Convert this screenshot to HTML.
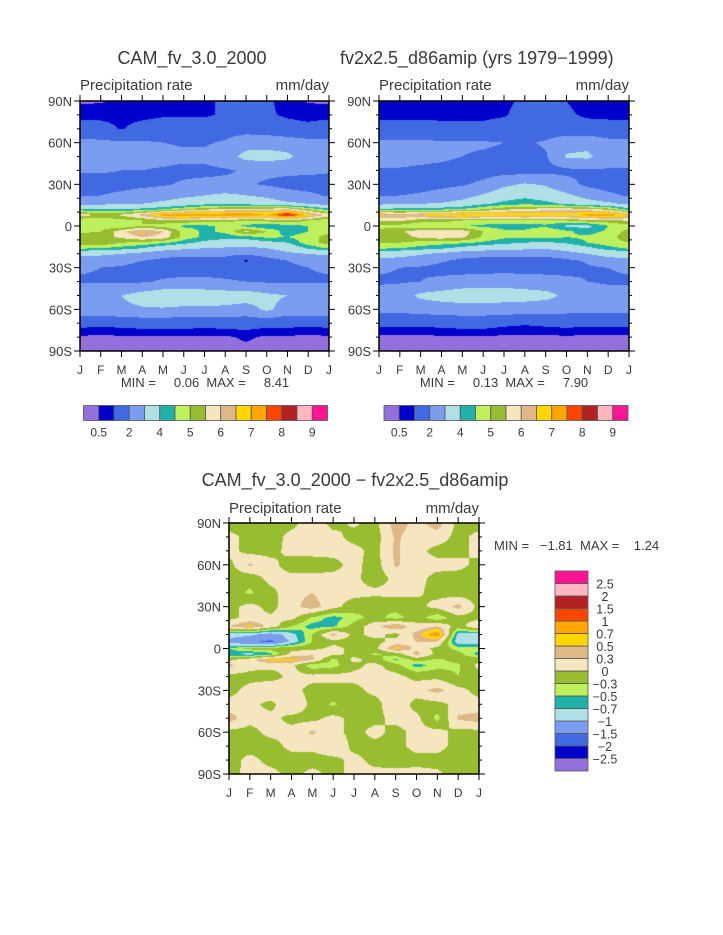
<!DOCTYPE html>
<html><head><meta charset="utf-8"><style>
html,body{margin:0;padding:0;background:#fff;}
#root{position:relative;width:723px;height:935px;overflow:hidden;background:#fff;}
canvas{position:absolute;}
svg{position:absolute;left:0;top:0;}
text{font-family:"Liberation Sans",sans-serif;fill:#3a3a3a;white-space:pre;}
</style></head><body>
<div id="root">
<canvas id="c1" style="left:80px;top:101px" width="249" height="250"></canvas>
<canvas id="c2" style="left:379px;top:101px" width="250" height="250"></canvas>
<canvas id="c3" style="left:229px;top:523px" width="250" height="251"></canvas>
<svg id="ov" width="723" height="935">
<text x="192" y="64" font-size="18" text-anchor="middle">CAM_fv_3.0_2000</text>
<text x="340" y="64" font-size="18">fv2x2.5_d86amip (yrs 1979−1999)</text>
<text x="80" y="90" font-size="15">Precipitation rate</text>
<text x="329" y="90" font-size="15" text-anchor="end">mm/day</text>
<text x="379" y="90" font-size="15">Precipitation rate</text>
<text x="629" y="90" font-size="15" text-anchor="end">mm/day</text>
<text x="205" y="387" font-size="13" text-anchor="middle" xml:space="preserve">MIN =     0.06  MAX =     8.41</text>
<text x="504" y="387" font-size="13" text-anchor="middle" xml:space="preserve">MIN =     0.13  MAX =     7.90</text>
<text x="355" y="486" font-size="18" text-anchor="middle">CAM_fv_3.0_2000 − fv2x2.5_d86amip</text>
<text x="229" y="513" font-size="15">Precipitation rate</text>
<text x="479" y="513" font-size="15" text-anchor="end">mm/day</text>
<text x="494" y="550" font-size="13" xml:space="preserve">MIN =   −1.81  MAX =    1.24</text>
</svg>
</div>
<script>
// ---------- data ----------
const months = ["J","F","M","A","M","J","J","A","S","O","N","D","J"];
const latTicks = [90,60,30,0,-30,-60,-90];
const latTickLabels = ["90N","60N","30N","0","30S","60S","90S"];
const palette = ["#9370DB","#0000CD","#4169E1","#7A9DF0","#B0E0E6","#20B2AA","#BEF05E","#98BD30","#F5E6C0","#DEB887","#FFD700","#FFA500","#FF4500","#B22222","#FFB6C1","#FF1493"];
const precipLevels = [0.5,1,2,3,4,4.5,5,5.5,6,6.5,7,7.5,8,8.5,9];
const precipLevelLabels = ["0.5","","2","","4","","5","","6","","7","","8","","9"];
const diffLevels = [-2.5,-2,-1.5,-1,-0.7,-0.5,-0.3,0,0.3,0.5,0.7,1,1.5,2,2.5];
const diffLevelLabels = ["−2.5","−2","−1.5","−1","−0.7","−0.5","−0.3","0","0.3","0.5","0.7","1","1.5","2","2.5"];

const latsP = [90,80,70,60,50,40,30,22,16,12,8,4,0,-4,-8,-12,-16,-20,-25,-30,-40,-50,-60,-70,-80,-90];
const model = [
[0.4,0.45,0.6,0.6,0.6,0.7,0.9,1.1,1.1,1.1,0.8,0.45,0.4],
[0.8,0.8,0.8,0.8,0.9,0.9,0.9,1.1,1.1,1.1,0.9,0.8,0.8],
[1.4,1.3,0.95,1.3,1.5,1.5,1.5,1.6,1.6,1.5,1.3,1.2,1.4],
[2.2,2.2,2.1,2.1,2.0,1.9,1.9,2.1,2.6,2.6,2.5,2.3,2.2],
[2.5,2.5,2.4,2.3,2.3,2.2,2.2,2.6,3.3,3.4,3.2,2.5,2.5],
[2.1,2.1,2.0,2.0,1.9,1.8,1.8,1.9,2.1,2.2,2.2,2.2,2.1],
[1.6,1.6,1.7,1.8,1.9,2.1,2.2,2.2,2.1,1.9,1.7,1.6,1.6],
[1.9,2.0,2.2,2.4,2.6,2.8,3.0,3.2,3.0,2.8,2.4,2.2,1.9],
[2.6,2.8,3.0,3.0,3.2,3.5,3.8,4.0,3.8,3.5,3.2,3.0,2.6],
[4.2,4.0,4.0,4.2,4.5,5.0,5.4,5.6,5.8,5.8,6.0,5.0,4.2],
[5.8,5.4,5.6,6.2,7.3,7.6,7.4,7.5,7.6,7.0,8.3,6.8,5.8],
[4.6,4.6,4.8,5.0,5.3,5.4,5.2,5.2,5.0,5.2,5.4,5.0,4.6],
[4.7,4.8,4.6,5.0,4.8,4.4,4.4,4.6,4.4,4.0,4.3,4.5,4.7],
[4.9,5.0,5.8,6.6,6.0,4.8,4.4,4.6,5.6,5.0,4.2,4.5,4.9],
[5.2,5.3,5.6,6.0,5.8,4.8,4.4,4.2,4.3,4.6,4.5,4.8,5.2],
[5.2,5.4,5.0,4.9,4.6,4.2,3.8,3.6,3.5,3.8,4.0,4.8,5.2],
[4.6,4.5,4.3,4.0,3.5,3.2,3.0,2.9,2.8,3.0,3.4,4.1,4.6],
[3.2,3.2,3.0,2.7,2.3,2.2,2.2,2.2,2.2,2.4,2.8,3.0,3.2],
[2.4,2.4,2.3,2.0,1.8,1.7,1.7,1.7,0.9,1.6,2.0,2.3,2.4],
[2.1,2.0,1.9,1.7,1.6,1.6,1.6,1.6,1.5,1.6,1.8,2.0,2.1],
[1.9,1.9,1.9,1.9,2.1,2.2,2.2,2.1,2.0,1.9,1.9,1.9,1.9],
[2.9,3.0,3.0,3.4,3.7,3.7,3.6,3.5,3.5,3.2,3.0,2.9,2.9],
[2.6,2.7,2.8,2.9,2.9,2.8,2.8,2.8,2.6,3.2,2.6,2.8,2.6],
[1.3,1.2,1.3,1.4,1.4,1.4,1.3,1.4,1.4,1.3,1.3,1.2,1.3],
[0.4,0.4,0.4,0.4,0.4,0.4,0.45,0.4,0.6,0.4,0.4,0.4,0.4],
[0.3,0.3,0.3,0.3,0.3,0.3,0.3,0.3,0.3,0.3,0.3,0.3,0.3]];
const obs = [
[0.8,0.8,0.8,0.8,0.8,0.8,0.9,1.1,1.1,1.0,0.8,0.8,0.8],
[0.85,0.85,0.85,0.85,0.85,0.85,0.95,1.2,1.2,1.1,0.9,0.85,0.85],
[1.3,1.3,1.3,1.2,1.2,1.2,1.3,1.5,1.5,1.4,1.3,1.3,1.3],
[2.2,2.2,2.2,2.1,2.1,2.1,2.0,1.9,2.1,2.6,2.7,2.3,2.2],
[2.5,2.4,2.3,2.2,2.0,1.9,1.8,1.7,1.9,3.1,3.2,2.5,2.5],
[1.9,1.9,1.8,1.7,1.6,1.6,1.6,1.6,1.7,1.8,1.9,1.9,1.9],
[1.6,1.6,1.7,1.8,1.9,2.2,2.8,3.1,2.9,2.3,1.8,1.6,1.6],
[1.9,2.0,2.1,2.3,2.6,3.1,3.6,3.8,3.6,3.2,2.6,2.2,1.9],
[2.8,2.9,3.0,3.1,3.4,3.9,4.2,4.4,4.2,3.9,3.5,3.2,2.8],
[4.2,4.2,4.3,4.4,4.6,5.0,5.4,5.6,5.8,5.8,5.8,5.3,4.2],
[6.7,6.4,6.6,6.9,7.2,7.0,6.9,7.1,6.9,6.8,7.2,7.4,6.7],
[5.6,5.6,5.2,5.2,5.0,4.8,4.8,4.8,4.8,5.0,5.3,5.3,5.6],
[4.8,4.8,4.6,4.6,4.5,4.4,4.3,4.3,4.4,3.9,3.8,4.5,4.8],
[5.2,5.4,5.8,5.9,5.8,5.0,4.6,4.6,5.0,4.6,4.3,4.6,5.2],
[5.3,5.3,5.6,5.8,5.6,4.9,4.6,4.6,4.7,4.5,4.6,4.8,5.3],
[5.0,5.0,4.8,4.7,4.6,4.4,4.2,4.0,3.9,4.1,4.5,4.8,5.0],
[4.6,4.5,4.3,4.1,3.8,3.5,3.3,3.2,3.1,3.4,3.8,4.3,4.6],
[3.4,3.3,3.1,2.8,2.4,2.3,2.3,2.3,2.4,2.6,3.0,3.4,3.4],
[2.8,2.7,2.5,2.1,1.8,1.7,1.7,1.7,1.5,1.8,2.1,2.6,2.8],
[2.1,2.0,1.9,1.7,1.6,1.6,1.6,1.6,1.6,1.7,1.9,2.0,2.1],
[1.9,1.9,2.0,2.2,2.4,2.5,2.6,2.5,2.4,2.2,2.0,1.9,1.9],
[2.3,2.6,3.2,3.4,3.6,3.6,3.5,3.4,3.3,2.8,2.5,2.3,2.3],
[2.3,2.3,2.4,2.5,2.5,2.5,2.5,2.5,2.4,2.3,2.3,2.3,2.3],
[1.2,1.2,1.2,1.3,1.4,1.4,1.2,1.1,1.2,1.3,1.2,1.2,1.2],
[0.4,0.4,0.4,0.4,0.4,0.4,0.4,0.4,0.4,0.4,0.4,0.4,0.4],
[0.3,0.3,0.3,0.3,0.3,0.3,0.3,0.3,0.3,0.3,0.3,0.3,0.3]];
const latsD = [90,80,70,60,50,40,30,22,16,10,5,0,-4,-8,-12,-20,-30,-40,-50,-60,-70,-80,-90];
const diff = [
[-0.15,-0.15,-0.1,-0.1,0.2,-0.1,0.05,-0.1,0.45,0.2,0.45,-0.1,-0.15],
[0.1,-0.1,-0.15,0.1,0.1,0.1,-0.1,-0.15,0.35,0.15,0.15,-0.1,0.1],
[0.1,-0.1,-0.1,0.1,0.1,0.1,0.1,-0.1,0.35,0.1,-0.1,-0.1,0.1],
[-0.1,0.35,0.1,-0.15,-0.15,-0.1,0.1,-0.15,0.35,0.1,0.1,0.1,-0.1],
[-0.15,-0.2,0.1,0.1,0.1,0.1,0.1,-0.2,0.1,0.1,-0.1,-0.15,-0.15],
[-0.15,-0.35,-0.1,0.2,0.3,0.1,0.1,0.1,0.1,0.05,-0.1,-0.15,-0.15],
[-0.1,0.1,-0.1,0.2,0.45,0.1,-0.15,-0.3,-0.2,-0.1,0.1,0.4,-0.1],
[-0.1,0.1,0.05,0.1,-0.35,-0.6,-0.4,-0.2,-0.4,-0.15,-0.5,-0.1,-0.1],
[0.3,0.6,0.2,-0.3,-0.6,-0.55,-0.2,0.2,0.55,0.1,0.3,-0.15,0.3],
[-0.85,-0.9,-1.2,-0.8,-0.3,0.4,-0.1,0.1,-0.1,0.4,0.95,-0.8,-0.85],
[-1.1,-1.4,-1.6,-0.9,-0.3,-0.1,-0.1,-0.1,0.1,0.3,0.3,-0.9,-0.9],
[-0.5,-0.2,-0.15,-0.1,-0.1,0.1,-0.1,-0.1,0.6,0.2,-0.1,-0.4,-0.4],
[-0.65,-0.8,-0.6,0.1,0.3,0.1,-0.1,-0.35,-0.2,0.4,-0.1,-0.2,-0.6],
[-0.1,0.2,0.6,0.6,0.35,-0.4,0.1,-0.15,-0.55,-0.2,-0.35,-0.2,-0.1],
[0.4,0.1,0.1,0.1,-0.5,-0.4,-0.1,0.1,-0.2,-0.6,-0.4,-0.35,0.1],
[-0.1,-0.1,-0.15,0.1,0.1,0.1,0.1,0.1,0.1,-0.1,-0.1,-0.3,-0.1],
[-0.1,0.1,0.3,0.1,-0.1,-0.1,-0.1,0.1,0.1,0.2,0.4,0.1,-0.1],
[0.1,0.1,-0.1,0.3,-0.1,-0.35,-0.1,-0.15,0.3,-0.15,-0.1,0.1,0.1],
[0.45,0.1,0.1,-0.1,-0.1,0.1,-0.1,-0.1,0.1,0.1,-0.4,0.35,0.45],
[-0.1,-0.1,0.1,0.1,0.35,0.1,-0.1,0.1,-0.1,0.1,0.1,-0.1,-0.1],
[-0.1,-0.15,-0.15,0.1,0.1,0.3,-0.1,-0.1,-0.1,0.1,0.1,-0.1,-0.1],
[-0.15,0.1,-0.1,-0.15,-0.15,-0.1,0.1,-0.1,-0.15,-0.1,-0.1,-0.15,-0.15],
[-0.1,0.1,0.1,-0.1,0.1,-0.1,0.1,0.1,0.1,0.1,0.05,-0.1,-0.1]];

// ---------- drawing ----------
function hex(c){return [parseInt(c.substr(1,2),16),parseInt(c.substr(3,2),16),parseInt(c.substr(5,2),16)];}
const rgb = palette.map(hex);
function levelIndex(v,levels){let k=0;while(k<levels.length&&v>=levels[k])k++;return k;}
function sample(lats,vals,lat,m){
  let i=0;while(i<lats.length-2&&lat<lats[i+1])i++;
  const t=(lats[i]-lat)/(lats[i]-lats[i+1]);
  let j=Math.min(11,Math.floor(m));const s=m-j;
  const a=vals[i][j]*(1-s)+vals[i][j+1]*s;
  const b=vals[i+1][j]*(1-s)+vals[i+1][j+1]*s;
  return a*(1-t)+b*t;
}
function drawField(id,lats,vals,levels){
  const cv=document.getElementById(id),ctx=cv.getContext('2d');
  const w=cv.width,h=cv.height,img=ctx.createImageData(w,h);
  for(let py=0;py<h;py++){const lat=90-180*(py+0.5)/h;
    for(let px=0;px<w;px++){const m=12*(px+0.5)/w;
      const c=rgb[levelIndex(sample(lats,vals,lat,m),levels)];
      const o=(py*w+px)*4;img.data[o]=c[0];img.data[o+1]=c[1];img.data[o+2]=c[2];img.data[o+3]=255;}}
  ctx.putImageData(img,0,0);
}
drawField('c1',latsP,model,precipLevels);
drawField('c2',latsP,obs,precipLevels);
drawField('c3',latsD,diff,diffLevels);

const NS="http://www.w3.org/2000/svg",ov=document.getElementById('ov');
function el(tag,attrs,txt){const e=document.createElementNS(NS,tag);for(const k in attrs)e.setAttribute(k,attrs[k]);if(txt!==undefined)e.textContent=txt;ov.appendChild(e);return e;}
function axes(x0,y0,w,h,p){
  const fr=el('rect',{x:x0,y:y0,width:w,height:h,fill:'none',stroke:'#000','stroke-width':1.5});
  
  
  const ys=lat=>y0+(90-lat)/180*h, xs=m=>x0+m/12*w;
  for(let lat=-90;lat<=90;lat+=10){const maj=lat%30===0,L=maj?6:3,y=ys(lat);
    el('line',{x1:x0-L,y1:y,x2:x0,y2:y,stroke:'#000','stroke-width':1});
    el('line',{x1:x0+w,y1:y,x2:x0+w+L,y2:y,stroke:'#000','stroke-width':1});}
  latTicks.forEach((lat,i)=>{const t=el('text',{x:x0-8,y:ys(lat)+5,'font-size':13,'text-anchor':'end'},latTickLabels[i]);
    
    });
  months.forEach((mn,i)=>{const x=xs(i);
    el('line',{x1:x,y1:y0-6,x2:x,y2:y0,stroke:'#000','stroke-width':1});
    el('line',{x1:x,y1:y0+h,x2:x,y2:y0+h+6,stroke:'#000','stroke-width':1});
    const t=el('text',{x:x,y:y0+h+23,'font-size':12,'text-anchor':'middle'},mn);
    
    });
}
axes(80,101,249,250,'model');
axes(379,101,250,250,'obs');
axes(229,523,250,251,'diff');

function hbar(x0,y0,w,h,p){
  const bw=w/palette.length;
  palette.forEach((c,i)=>{const r=el('rect',{x:x0+i*bw,y:y0,width:bw,height:h,fill:c,stroke:'#555','stroke-width':0.8});
    
    });
  precipLevelLabels.forEach((s,i)=>{if(!s)return;const t=el('text',{x:x0+(i+1)*bw,y:y0+h+16,'font-size':12,'text-anchor':'middle'},s);
    
    });
}
hbar(83.5,405.5,244,15,'model');
hbar(384,405.5,244,15,'obs');
(function(){const x0=555,y0=571,w=33,h=200,bh=h/palette.length;
  palette.forEach((c,i)=>{const r=el('rect',{x:x0,y:y0+h-(i+1)*bh,width:w,height:bh,fill:c,stroke:'#555','stroke-width':0.8});
    
    });
  diffLevelLabels.forEach((s,i)=>{const t=el('text',{x:605,y:y0+h-(i+1)*bh+5,'font-size':12.5,'text-anchor':'middle'},s);
    
    });
})();
</script>
</body></html>
